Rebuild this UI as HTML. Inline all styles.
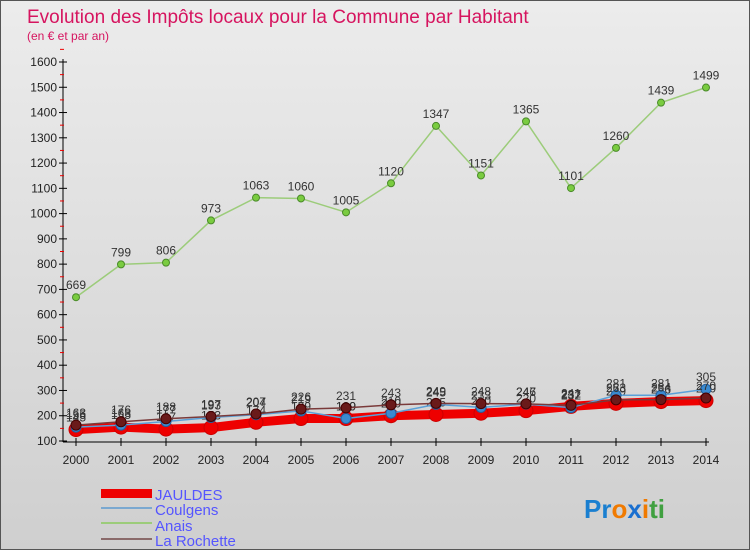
<!DOCTYPE html>
<html><head><meta charset="utf-8"><style>
body{margin:0;}
#wrap{position:relative;width:748px;height:548px;border:1px solid #555;background:linear-gradient(#ececec,#cfcfcf);font-family:"Liberation Sans",sans-serif;overflow:hidden}
</style></head><body>
<div id="wrap">
<svg id="svg" width="748" height="548" xmlns="http://www.w3.org/2000/svg">
<text x="26" y="22" font-size="19" fill="#d6145f">Evolution des Impôts locaux pour la Commune par Habitant</text>
<text x="26" y="39" font-size="12" fill="#d6145f">(en € et par an)</text>
<g id="axes"></g><g id="series"></g>
<g font-size="15" fill="#5555ff">
<rect x="100" y="488" width="51" height="9" fill="#ee0000"/>
<text x="154" y="499">JAULDES</text>
<rect x="100" y="506" width="51" height="2" fill="#7aa8d0"/>
<text x="154" y="514">Coulgens</text>
<rect x="100" y="521" width="51" height="2" fill="#9ccc7a"/>
<text x="154" y="530">Anais</text>
<rect x="100" y="537" width="51" height="2" fill="#8a6a6a"/>
<text x="154" y="545">La Rochette</text>
</g>
<text x="583" y="517" font-size="26" font-weight="bold"><tspan fill="#1a7fd0">Pr</tspan><tspan fill="#f07a00">o</tspan><tspan fill="#1a6fd0">x</tspan><tspan fill="#f07a00">i</tspan><tspan fill="#40a040">ti</tspan></text>
</svg></div>
<script>
const years=[2000,2001,2002,2003,2004,2005,2006,2007,2008,2009,2010,2011,2012,2013,2014];
const yTicks=[100,200,300,400,500,600,700,800,900,1000,1100,1200,1300,1400,1500,1600];
const jauldes=[145,155,147,153,174,189,189,200,205,210,220,237,249,256,260];
const coulgens=[155,163,177,193,204,219,189,210,245,233,246,232,281,281,305];
const anais=[669,799,806,973,1063,1060,1005,1120,1347,1151,1365,1101,1260,1439,1499];
const rochette=[163,176,188,197,207,226,231,243,249,248,247,241,263,264,270];
const NS="http://www.w3.org/2000/svg";
const X=i=>75+i*45, Y=v=>440-(v-100)*379/1500;
function mk(t,a,p){const e=document.createElementNS(NS,t);for(const k in a)e.setAttribute(k,a[k]);p.appendChild(e);return e;}
const ax=document.getElementById('axes'), sg=document.getElementById('series');
let l=mk('line',{x1:62,y1:58,x2:62,y2:441,stroke:'#000'},ax);


l=mk('line',{x1:62,y1:441,x2:708,y2:441,stroke:'#000'},ax);


yTicks.forEach(v=>{
 mk('line',{x1:58,x2:66,y1:Y(v),y2:Y(v),stroke:'#000'},ax);
 mk('line',{x1:59,x2:63,y1:Y(v+50),y2:Y(v+50),stroke:'#e00'},ax);
 const t=mk('text',{x:56,y:Y(v)+4,'font-size':12,'text-anchor':'end',fill:'#222'},ax);t.textContent=v;
 
 
});
years.forEach((y,i)=>{
 mk('line',{x1:X(i),x2:X(i),y1:437,y2:445,stroke:'#000'},ax);
 const t=mk('text',{x:X(i),y:463,'font-size':12,'text-anchor':'middle',fill:'#222'},ax);t.textContent=y;
 
 
});
function series(name,vals,color,w,r,dot,dotStroke){
 const g=mk('g',{},sg);
 
 
 const p=mk('polyline',{points:vals.map((v,i)=>X(i)+','+Y(v)).join(' '),fill:'none',stroke:color,'stroke-width':w},g);
 
 
 vals.forEach((v,i)=>{
  const c=mk('circle',{cx:X(i),cy:Y(v),r:r,fill:dot,stroke:dotStroke,'stroke-width':1},g);
  
  
  const t=mk('text',{x:X(i),y:Y(v)-8,'font-size':12,'text-anchor':'middle',fill:'#333'},g);t.textContent=v;
  
  
 });
}
series('anais',anais,'#9ccc7a',1.5,3.5,'#7acc40','#4a8a2a');
series('jauldes',jauldes,'#ee0000',9,7,'#ee0000','#cc0000');
series('coulgens',coulgens,'#5aa0d8',1.5,5,'#3a8ad0','#2060a0');
series('la-rochette',rochette,'#7a3a3a',1.5,5,'#6a1a1a','#400');
</script>
</body></html>
